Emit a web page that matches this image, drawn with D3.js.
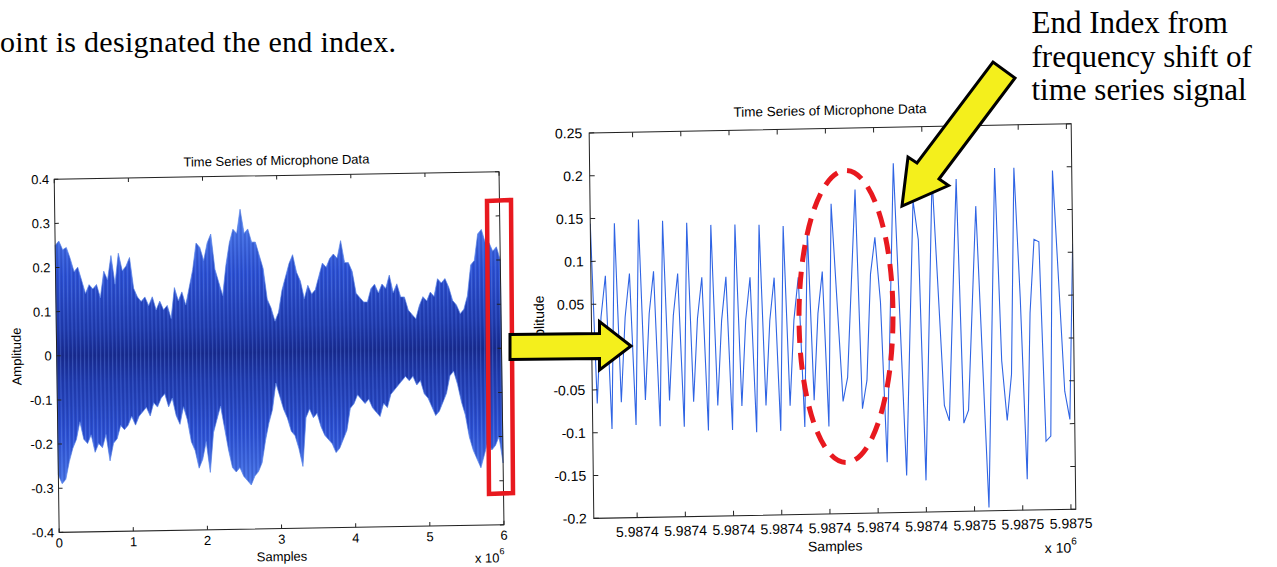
<!DOCTYPE html>
<html><head><meta charset="utf-8">
<script src="https://cdn.jsdelivr.net/npm/d3@7"></script>
<style>
html,body{margin:0;padding:0;background:#fff;}
svg{display:block;}
</style></head><body>
<svg id="fig" width="1277" height="567"></svg>
<script>
// ---------- full recording (amplitude envelope; samples in units of 1e6) ----------
const overviewEnvX = [0,0.05,0.1,0.15,0.2,0.25,0.3,0.35,0.4,0.45,0.5,0.55,0.6,0.65,0.7,0.75,0.8,0.85,0.9,0.95,
  1,1.05,1.1,1.15,1.2,1.25,1.3,1.35,1.4,1.45,1.5,1.55,1.6,1.65,1.7,1.75,1.8,1.85,1.9,1.95,
  2,2.05,2.1,2.15,2.2,2.25,2.3,2.35,2.4,2.45,2.5,2.55,2.6,2.65,2.7,2.75,2.8,2.85,2.9,2.95,
  3,3.05,3.1,3.15,3.2,3.25,3.3,3.35,3.4,3.45,3.5,3.55,3.6,3.65,3.7,3.75,3.8,3.85,3.9,3.95,
  4,4.05,4.1,4.15,4.2,4.25,4.3,4.35,4.4,4.45,4.5,4.55,4.6,4.65,4.7,4.75,4.8,4.85,4.9,4.95,
  5,5.05,5.1,5.15,5.2,5.25,5.3,5.35,5.4,5.45,5.5,5.55,5.6,5.65,5.7,5.75,5.8,5.85,5.9,5.95,6];
const overviewUpperAmp = [0.25,0.26,0.24,0.245,0.22,0.19,0.2,0.17,0.14,0.16,0.15,0.16,0.13,0.19,0.17,0.225,0.16,0.23,0.19,0.2,
  0.22,0.15,0.13,0.12,0.13,0.11,0.13,0.1,0.12,0.1,0.11,0.08,0.15,0.12,0.14,0.11,0.15,0.19,0.25,0.24,
  0.21,0.25,0.27,0.19,0.16,0.13,0.2,0.25,0.28,0.27,0.325,0.27,0.28,0.25,0.25,0.22,0.19,0.12,0.1,0.07,
  0.09,0.14,0.17,0.2,0.22,0.18,0.16,0.12,0.15,0.13,0.14,0.17,0.2,0.19,0.21,0.22,0.21,0.25,0.2,0.2,
  0.18,0.13,0.12,0.11,0.11,0.14,0.15,0.13,0.15,0.14,0.17,0.13,0.15,0.12,0.12,0.09,0.08,0.07,0.1,0.12,
  0.11,0.13,0.12,0.16,0.15,0.16,0.14,0.11,0.1,0.08,0.09,0.12,0.19,0.2,0.26,0.27,0.24,0.24,0.22,0.23,0.2];
const overviewLowerAmp = [-0.27,-0.29,-0.28,-0.24,-0.21,-0.19,-0.15,-0.19,-0.2,-0.18,-0.22,-0.2,-0.21,-0.18,-0.24,-0.2,-0.19,-0.16,-0.17,-0.16,
  -0.14,-0.16,-0.14,-0.13,-0.12,-0.14,-0.11,-0.12,-0.1,-0.09,-0.12,-0.1,-0.14,-0.16,-0.12,-0.15,-0.2,-0.22,-0.26,-0.24,
  -0.2,-0.27,-0.18,-0.15,-0.12,-0.17,-0.22,-0.26,-0.27,-0.26,-0.28,-0.29,-0.3,-0.28,-0.27,-0.25,-0.2,-0.16,-0.13,-0.07,
  -0.1,-0.13,-0.15,-0.18,-0.19,-0.22,-0.26,-0.15,-0.13,-0.15,-0.14,-0.17,-0.19,-0.2,-0.21,-0.23,-0.22,-0.2,-0.18,-0.13,
  -0.12,-0.1,-0.11,-0.12,-0.11,-0.13,-0.14,-0.15,-0.12,-0.13,-0.1,-0.09,-0.08,-0.07,-0.06,-0.07,-0.06,-0.08,-0.07,-0.1,
  -0.11,-0.13,-0.15,-0.14,-0.12,-0.1,-0.06,-0.05,-0.08,-0.12,-0.15,-0.2,-0.23,-0.25,-0.27,-0.24,-0.21,-0.23,-0.22,-0.2,-0.26];
const overviewXTicks = [0,1,2,3,4,5,6];
const overviewYTicks = [-0.4,-0.3,-0.2,-0.1,0,0.1,0.2,0.3,0.4];
const overviewYTickLabels = ["-0.4","-0.3","-0.2","-0.1","0","0.1","0.2","0.3","0.4"];

// ---------- zoomed window near the end of the recording ----------
const zoomStart = 5987371;
const zoomEnd = 5987471;
const zoomSampleOffsets = [0,1,2,3,4,5,6,7,8,9,10,11,12,13,14,15,16,17,18,19,20,21,22,23,24,25,26,27,28,29,30,31,32,33,34,35,36,37,38,39,40,41,42,43,44,45,46,47,48,49,50,52,53,55,56,57,58,59,60,61,63,65,67,68,69,71,73,74,76,77,78,80,82,84,85,86,87,88,89,90,91,92,93,94,95,96,98,99,100];
const zoomAmp = [0.144,-0.066,0.035,0.083,-0.096,0.144,-0.065,0.034,0.085,-0.092,0.148,-0.063,0.038,0.087,-0.094,0.146,-0.064,0.035,0.084,-0.095,0.143,-0.066,0.031,0.079,-0.100,0.140,-0.071,0.028,0.079,-0.100,0.140,-0.072,0.028,0.078,-0.103,0.139,-0.072,0.027,0.077,-0.102,0.137,-0.073,0.027,0.077,-0.098,0.133,-0.067,0.034,0.083,-0.098,0.162,-0.069,-0.041,0.178,-0.078,-0.045,0.079,0.122,0.046,-0.141,0.208,-0.157,0.164,0.118,-0.163,0.190,-0.076,-0.094,0.188,-0.097,-0.082,0.156,-0.196,0.200,-0.025,-0.095,-0.041,0.200,0.048,-0.164,0.030,0.116,0.113,-0.120,-0.114,0.196,-0.062,-0.095,0.110];
const zoomXTicks = [5987380,5987390,5987400,5987410,5987420,5987430,5987440,5987450,5987460,5987470];
const zoomXTickLabels = ["5.9874","5.9874","5.9874","5.9874","5.9874","5.9874","5.9874","5.9875","5.9875","5.9875"];
const zoomYTicks = [-0.2,-0.15,-0.1,-0.05,0,0.05,0.1,0.15,0.2,0.25];
const zoomYTickLabels = ["-0.2","-0.15","-0.1","-0.05","0","0.05","0.1","0.15","0.2","0.25"];

const chartTitle = "Time Series of Microphone Data";
const SANS = '"Liberation Sans", Arial, Helvetica, sans-serif';
const SERIF = '"Liberation Serif", "Times New Roman", Times, serif';

const svg = d3.select("#fig");
const defs = svg.append("defs");

// shading for the dense waveform: dark core, lighter fringes
const grad = defs.append("linearGradient").attr("id","sigFill")
  .attr("gradientUnits","userSpaceOnUse").attr("x1",0).attr("x2",0);
[[0,"#4a78ea"],[0.2,"#2b50d4"],[0.4,"#1f3bb0"],[0.5,"#172a8f"],[0.6,"#1f3bb0"],[0.8,"#2b50d4"],[1,"#4a78ea"]]
  .forEach(([o,c]) => grad.append("stop").attr("offset",o).attr("stop-color",c));

// fine vertical streaks of the densely packed trace
const strip = defs.append("pattern").attr("id","strip").attr("patternUnits","userSpaceOnUse")
  .attr("width",4).attr("height",8);
strip.append("rect").attr("x",0).attr("y",0).attr("width",1).attr("height",8).attr("fill","#7aa0f2").attr("opacity",0.3);
strip.append("rect").attr("x",2).attr("y",0).attr("width",1).attr("height",8).attr("fill","#0d1a66").attr("opacity",0.22);

// ---------- helper: MATLAB style boxed axes ----------
function boxAxes(g, x, y, opts) {
  const [x0,x1] = x.range(), [y0,y1] = y.range(); // y0 bottom, y1 top
  const tl = opts.tick;
  g.append("rect").attr("x",x0).attr("y",y1).attr("width",x1-x0).attr("height",y0-y1)
    .attr("fill","none").attr("stroke","#222").attr("stroke-width",1);
  opts.xTicks.forEach((t,i) => {
    const px = x(t);
    g.append("line").attr("x1",px).attr("x2",px).attr("y1",y0).attr("y2",y0-tl).attr("stroke","#222");
    g.append("line").attr("x1",px).attr("x2",px).attr("y1",y1).attr("y2",y1+tl).attr("stroke","#222");
    g.append("text").attr("x",px).attr("y",y0+opts.xLabelDy).attr("text-anchor","middle")
      .attr("font-family",SANS).attr("font-size",opts.fs).attr("fill","#000").text(opts.xLabels[i]);
  });
  opts.yTicks.forEach((t,i) => {
    const py = y(t);
    g.append("line").attr("x1",x0).attr("x2",x0+tl).attr("y1",py).attr("y2",py).attr("stroke","#222");
    g.append("line").attr("x1",x1).attr("x2",x1-tl).attr("y1",py).attr("y2",py).attr("stroke","#222");
    g.append("text").attr("x",x0-opts.yLabelDx).attr("y",py).attr("dy","0.35em").attr("text-anchor","end")
      .attr("font-family",SANS).attr("font-size",opts.fs).attr("fill","#000").text(opts.yLabels[i]);
  });
}

// ================= left panel: whole recording =================
const L = {cx:279, cy:352};
const gL = svg.append("g")
  .attr("transform",`translate(${L.cx},${L.cy}) matrix(1,-0.017,0.014,1,0,0) translate(${-L.cx},${-L.cy})`);
const xL = d3.scaleLinear().domain([0,6]).range([56.7,501.5]);
const yL = d3.scaleLinear().domain([-0.4,0.4]).range([528.6,175.5]);
grad.attr("y1",yL(0.3)).attr("y2",yL(-0.3));

const envArea = d3.area()
  .x((s) => xL(s))
  .y0((s,i) => yL(overviewLowerAmp[i]))
  .y1((s,i) => yL(overviewUpperAmp[i]));
const envPath = envArea(overviewEnvX);
gL.append("path").attr("d",envPath).attr("fill","url(#sigFill)").attr("stroke","#5b86ea").attr("stroke-width",0.7);
gL.append("path").attr("d",envPath).attr("fill","url(#strip)").attr("stroke","none");

boxAxes(gL, xL, yL, {tick:4, fs:13, xTicks:overviewXTicks, xLabels:overviewXTicks.map(String),
  yTicks:overviewYTicks, yLabels:overviewYTickLabels, xLabelDy:15, yLabelDx:5});

gL.append("text").attr("x",(xL.range()[0]+xL.range()[1])/2).attr("y",165).attr("text-anchor","middle")
  .attr("font-family",SANS).attr("font-size",13).text(chartTitle);
gL.append("text").attr("x",(xL.range()[0]+xL.range()[1])/2).attr("y",561).attr("text-anchor","middle")
  .attr("font-family",SANS).attr("font-size",13).text("Samples");
const expL = gL.append("text").attr("x",472).attr("y",566).attr("font-family",SANS).attr("font-size",13);
expL.append("tspan").text("x 10");
expL.append("tspan").attr("dy",-8).attr("font-size",9).text("6");
gL.append("text").attr("transform",`translate(21,${(yL.range()[0]+yL.range()[1])/2}) rotate(-90)`)
  .attr("text-anchor","middle").attr("font-family",SANS).attr("font-size",13).text("Amplitude");

// ================= right panel: zoomed window =================
const R = {cx:832, cy:322};
const gR = svg.append("g")
  .attr("transform",`translate(${R.cx},${R.cy}) matrix(1,-0.019,0.012,1,0,0) translate(${-R.cx},${-R.cy})`);
const xR = d3.scaleLinear().domain([zoomStart,zoomEnd]).range([591.5,1073.5]);
const yR = d3.scaleLinear().domain([-0.2,0.25]).range([513.8,128.4]);

defs.append("clipPath").attr("id","clipR").append("rect")
  .attr("x",xR.range()[0]).attr("y",yR.range()[1])
  .attr("width",xR.range()[1]-xR.range()[0]).attr("height",yR.range()[0]-yR.range()[1]);

const zoomPts = zoomSampleOffsets.map((k,i) => [xR(zoomStart + k), yR(zoomAmp[i])]);
gR.append("path").attr("d",d3.line()(zoomPts)).attr("clip-path","url(#clipR)")
  .attr("fill","none").attr("stroke","#2f64e4").attr("stroke-width",1.1).attr("stroke-linejoin","miter");

boxAxes(gR, xR, yR, {tick:5, fs:14, xTicks:zoomXTicks, xLabels:zoomXTickLabels,
  yTicks:zoomYTicks, yLabels:zoomYTickLabels, xLabelDy:19, yLabelDx:7});

gR.append("text").attr("x",(xR.range()[0]+xR.range()[1])/2).attr("y",115).attr("text-anchor","middle")
  .attr("font-family",SANS).attr("font-size",13.5).text(chartTitle);
gR.append("text").attr("x",(xR.range()[0]+xR.range()[1])/2).attr("y",551).attr("text-anchor","middle")
  .attr("font-family",SANS).attr("font-size",14).text("Samples");
const expR = gR.append("text").attr("x",1042).attr("y",557).attr("font-family",SANS).attr("font-size",14);
expR.append("tspan").text("x 10");
expR.append("tspan").attr("dy",-8).attr("font-size",10).text("6");
gR.append("text").attr("transform",`translate(544,${(yR.range()[0]+yR.range()[1])/2}) rotate(-90)`)
  .attr("text-anchor","middle").attr("font-family",SANS).attr("font-size",14).text("Amplitude");

// ================= annotations =================
// dashed ellipse around the onset of the frequency change
svg.append("ellipse").attr("cx",846).attr("cy",316.5).attr("rx",47).attr("ry",146)
  .attr("fill","none").attr("stroke","#e8191f").attr("stroke-width",5).attr("stroke-dasharray","17 10");

// box marking the zoomed region on the full recording
svg.append("polygon").attr("points","487,201 511,200 513,493 489,494")
  .attr("fill","none").attr("stroke","#e8191f").attr("stroke-width",4.5);

// block arrows
svg.append("polygon")
  .attr("points","510,334.5 599.5,333.5 599.5,321.5 631,346 599.5,370 599.5,358.5 510,359.5")
  .attr("fill","#f4ef1c").attr("stroke","#000").attr("stroke-width",3).attr("stroke-linejoin","miter");
svg.append("polygon")
  .attr("points","902,206 908,157 917,163 993,62 1015,78 939,179 948.5,185.5")
  .attr("fill","#f4ef1c").attr("stroke","#000").attr("stroke-width",3).attr("stroke-linejoin","miter");

// slide text
svg.append("text").attr("x",0).attr("y",52).attr("font-family",SERIF).attr("font-size",30)
  .attr("textLength",396).attr("lengthAdjust","spacing").text("oint is designated the end index.");
const note = svg.append("text").attr("font-family",SERIF).attr("font-size",31);
["End Index from","frequency shift of","time series signal"].forEach((s,i) =>
  note.append("tspan").attr("x",1031.5).attr("y",33 + i*33.5).text(s));
</script>
</body></html>
